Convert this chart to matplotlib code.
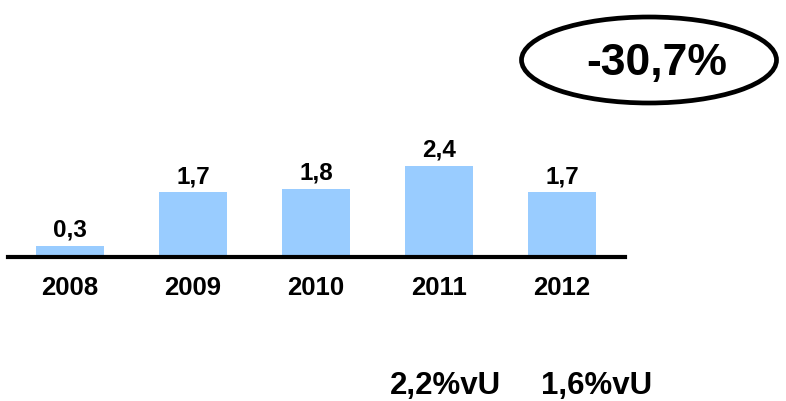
import matplotlib
matplotlib.use("Agg")
import matplotlib.pyplot as plt
from matplotlib.patches import Ellipse

# data
years = ["2008", "2009", "2010", "2011", "2012"]
values = [0.3, 1.7, 1.8, 2.4, 1.7]
value_labels = ["0,3", "1,7", "1,8", "2,4", "1,7"]
change_label = "-30,7%"
share_labels = ["2,2%vU", "1,6%vU"]

W, H = 786, 401
fig = plt.figure(figsize=(W / 100, H / 100), dpi=100)
plt.rcParams["font.family"] = ["Liberation Sans", "DejaVu Sans"]

# axes placed in pixel terms: baseline at y=257, spanning x 8..625
ax = fig.add_axes([8 / W, (H - 257) / H, 617 / W, 114 / H])
x = list(range(len(years)))
ax.bar(x, values, width=0.555, color="#99CCFF", zorder=2)
ax.set_xlim(-0.504, 4.512)
ax.set_ylim(0, 3.0)

for xi, v, lab in zip(x, values, value_labels):
    ax.annotate(lab, (xi, v), xytext=(0, 3), textcoords="offset points",
                ha="center", va="bottom", fontsize=17.5, fontweight="bold")

ax.set_xticks(x)
ax.set_xticklabels(years, fontsize=18.5, fontweight="bold")
ax.tick_params(axis="x", length=0, pad=14)
ax.set_yticks([])
for s in ["top", "right", "left"]:
    ax.spines[s].set_visible(False)
ax.spines["bottom"].set_linewidth(3)
ax.patch.set_visible(False)

# ellipse with the change label
ell = Ellipse((649 / W, 1 - 60 / H), 255 / W, 86 / H, transform=fig.transFigure,
              fill=False, edgecolor="black", linewidth=3.4)
fig.add_artist(ell)
fig.text(657 / W, 1 - 63 / H, change_label, ha="center", va="center",
         fontsize=32, fontweight="bold")

# shares below the chart
for xpos, lab in zip([445, 597], share_labels):
    fig.text(xpos / W, 1 - 386 / H, lab, ha="center", va="center",
             fontsize=22.5, fontweight="bold")

fig.savefig("out.png", dpi=100)
